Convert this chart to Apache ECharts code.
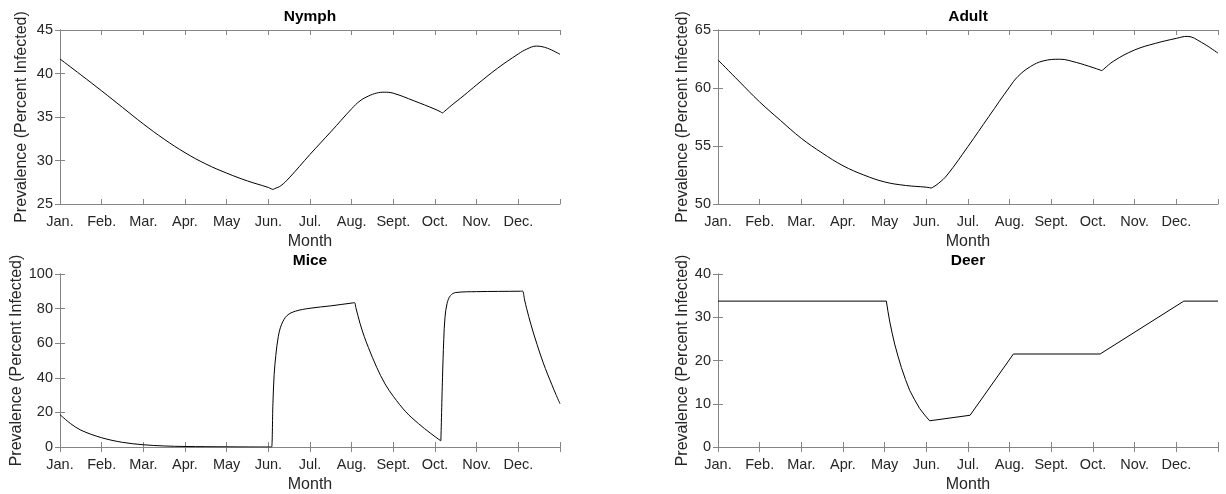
<!DOCTYPE html>
<html><head><meta charset="utf-8">
<script src="https://cdn.jsdelivr.net/npm/echarts@6/dist/echarts.min.js"></script>
<style>html,body{margin:0;padding:0;background:#fff}#c{width:1226px;height:494px}</style>
</head><body><div id="c"></div>
<script>
// ---- data (x = months since Jan. 1, y = percent infected) ----
const monthLabels = ['Jan.','Feb.','Mar.','Apr.','May','Jun.','Jul.','Aug.','Sept.','Oct.','Nov.','Dec.'];
const panelTitles = ['Nymph','Adult','Mice','Deer'];
const yTicks = [[25,45,5],[50,65,5],[0,100,20],[0,40,10]];

const nymph = [[0,41.67],[0.5,39.85],[1,38.0],[1.5,36.1],[2,34.2],[2.5,32.45],[3,30.9],[3.5,29.6],[4,28.55],[4.5,27.65],[5,26.9],[5.07,26.74],[5.11,26.68],[5.15,26.76],[5.3,27.1],[5.5,28.0],[6,30.7],[6.5,33.3],[7,35.95],[7.2,36.85],[7.4,37.4],[7.6,37.75],[7.78,37.85],[8,37.73],[8.5,36.85],[9,35.9],[9.14,35.58],[9.18,35.47],[9.22,35.62],[9.4,36.35],[9.7,37.5],[10,38.7],[10.5,40.6],[11,42.25],[11.2,42.8],[11.43,43.15],[11.7,42.9],[12,42.2]];
const adult = [[0,62.42],[0.5,60.6],[1,58.8],[1.5,57.2],[2,55.66],[2.5,54.4],[3,53.3],[3.5,52.5],[4,51.9],[4.5,51.6],[5,51.45],[5.08,51.4],[5.12,51.38],[5.16,51.45],[5.3,51.8],[5.5,52.5],[6,54.96],[6.5,57.54],[7,60.1],[7.2,61.0],[7.5,61.85],[7.8,62.33],[8.2,62.48],[8.6,62.2],[9,61.76],[9.17,61.55],[9.21,61.5],[9.25,61.61],[9.5,62.33],[10,63.28],[10.5,63.85],[11,64.28],[11.26,64.45],[11.6,63.94],[12,63.0]];
const mice = [[0,18.74],[0.25,13.6],[0.5,9.75],[1,5.35],[1.5,2.7],[2,1.3],[2.5,0.6],[3,0.3],[4,0.1],[5.06,0],[5.08,0],[5.11,25],[5.14,42],[5.18,53],[5.24,64],[5.32,71],[5.45,76],[5.65,78.5],[6,80.2],[6.5,81.6],[7.03,83.3],[7.07,83.4],[7.1,80.6],[7.2,71.5],[7.3,64.0],[7.4,57.6],[7.6,46.1],[7.8,36.5],[8,29.3],[8.3,20.3],[8.6,13.6],[8.9,7.8],[9.12,3.9],[9.14,3.6],[9.15,3.6],[9.18,40],[9.21,62],[9.24,75],[9.29,83],[9.37,87.5],[9.5,89.3],[10,89.8],[11.05,90.05],[11.1,90.1],[11.15,85],[11.2,80],[11.3,71],[11.4,63],[11.5,55.5],[11.6,48.5],[11.7,42.2],[11.8,36.3],[11.9,30.5],[12,25.0]];
const deer = [[0,33.73],[4.04,33.73],[4.08,31.3],[4.12,29.1],[4.18,26.3],[4.24,23.8],[4.32,21.0],[4.4,18.4],[4.5,15.6],[4.6,13.1],[4.72,10.9],[4.84,8.9],[4.96,7.4],[5.08,6.06],[6.05,7.34],[7.09,21.5],[9.17,21.5],[11.18,33.73],[12,33.73]];
const seriesData = [nymph, adult, mice, deer];

// ---- layout / style ----
const FONT = "'Liberation Sans', Arial, Helvetica, sans-serif";
const TXT = '#262626';
const AX = '#858585';
const grids = [
  {left:60, top:30, width:500, height:174},
  {left:718, top:30, width:500, height:174},
  {left:60, top:274, width:500, height:175},
  {left:718, top:274, width:500, height:175}
];
const yNameGaps = [30, 27, 34, 27];
const smoothing = [0.4, 0.4, 0.35, false];

const xAxes = [], yAxes = [], series = [], titles = [];
const lineStyle = {color: AX, width: 1};
for (let i = 0; i < 4; i++) {
  xAxes.push({
    type:'value', gridIndex:i, min:0, max:12, interval:1,
    name:'Month', nameLocation:'middle', nameGap:30,
    nameTextStyle:{color:TXT, fontSize:16, fontFamily:FONT},
    axisLine:{show:true, lineStyle}, axisTick:{inside:true, length:5, lineStyle},
    splitLine:{show:false},
    axisLabel:{color:TXT, fontSize:14.5, fontFamily:FONT, margin:10,
      formatter: v => (monthLabels[v] !== undefined ? monthLabels[v] : '')}
  });
  yAxes.push({
    type:'value', gridIndex:i, min:yTicks[i][0], max:yTicks[i][1], interval:yTicks[i][2],
    name:'Prevalence (Percent Infected)', nameLocation:'middle', nameGap:yNameGaps[i],
    nameTextStyle:{color:TXT, fontSize:16, fontFamily:FONT},
    axisLine:{show:true, lineStyle}, axisTick:{inside:true, length:5, lineStyle},
    splitLine:{show:false},
    axisLabel:{color:TXT, fontSize:14.5, fontFamily:FONT, margin:7}
  });
  const g = grids[i];
  titles.push({
    text: panelTitles[i], left: g.left + g.width/2, top: g.top - 21, textAlign:'center', padding:0,
    textStyle:{color:'#000', fontSize:15.5, fontWeight:'bold', fontFamily:FONT}
  });
  series.push({
    type:'line', xAxisIndex:i, yAxisIndex:i, data: seriesData[i],
    showSymbol:false, smooth: smoothing[i], animation:false,
    lineStyle:{color:'#000', width:1}
  });
}
// box axes (top and right) with inward ticks
for (let i = 0; i < 4; i++) {
  xAxes.push({
    type:'value', gridIndex:i, position:'top', min:0, max:12, interval:1,
    axisLine:{show:true, lineStyle}, axisTick:{inside:true, length:5, lineStyle},
    axisLabel:{show:false}, splitLine:{show:false}
  });
  yAxes.push({
    type:'value', gridIndex:i, position:'right', min:yTicks[i][0], max:yTicks[i][1], interval:yTicks[i][2],
    axisLine:{show:true, lineStyle}, axisTick:{inside:true, length:5, lineStyle},
    axisLabel:{show:false}, splitLine:{show:false}
  });
}

const chart = echarts.init(document.getElementById('c'), null, {renderer:'canvas'});
chart.setOption({
  animation:false,
  backgroundColor:'#fff',
  title: titles,
  grid: grids,
  xAxis: xAxes,
  yAxis: yAxes,
  series: series
});
</script></body></html>
